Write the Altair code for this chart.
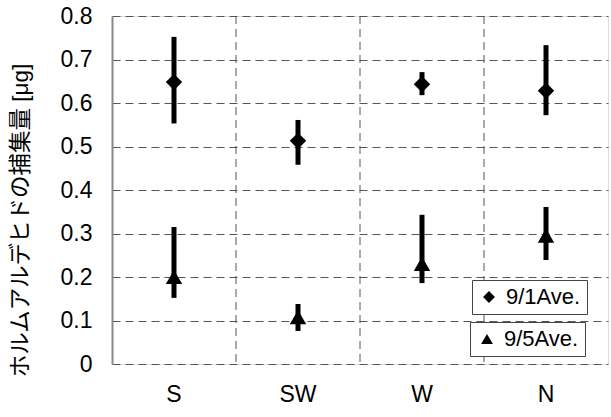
import altair as alt
import pandas as pd

categories = ["S", "SW", "W", "N"]
grid_cats = ["SW", "W", "N"]

d1_label = "9/1Ave."
d1_mean = [0.648, 0.513, 0.643, 0.628]
d1_low = [0.553, 0.458, 0.618, 0.572]
d1_high = [0.752, 0.561, 0.671, 0.733]

d5_label = "9/5Ave."
d5_mean = [0.200, 0.108, 0.230, 0.295]
d5_low = [0.152, 0.076, 0.186, 0.239]
d5_high = [0.315, 0.138, 0.343, 0.361]

y_title = "ホルムアルデヒドの捕集量 [μg]"
y_ticks = [0, 0.1, 0.2, 0.3, 0.4, 0.5, 0.6, 0.7, 0.8]

FONT = "Liberation Sans, Arial, Noto Sans CJK JP"

df1 = pd.DataFrame({"cat": categories, "mean": d1_mean, "low": d1_low,
                    "high": d1_high, "series": d1_label})
df5 = pd.DataFrame({"cat": categories, "mean": d5_mean, "low": d5_low,
                    "high": d5_high, "series": d5_label})
dgrid = pd.DataFrame({"cat": grid_cats})

xscale = alt.Scale(domain=categories, paddingInner=0, paddingOuter=0)
yscale = alt.Scale(domain=[0, 0.8], nice=False)

x_axis = alt.Axis(title=None, labelFontSize=23, labelFont=FONT, labelColor="#000",
                  ticks=False, domain=False, grid=False, labelPadding=19,
                  labelAngle=0)
y_axis = alt.Axis(title=y_title, values=y_ticks, format=".1~f",
                  labelFontSize=23, labelFont=FONT, labelColor="#000",
                  ticks=False, labelPadding=20,
                  domainColor="#888", domainWidth=2,
                  gridColor="#555", gridDash=[8, 5], gridWidth=1,
                  titleFont=FONT, titleFontSize=22.5, titleFontWeight="normal",
                  titleColor="#000", titleX=-80, titleY=204)

vgrid = alt.Chart(dgrid).mark_rule(color="#555", strokeDash=[8, 5], strokeWidth=1).encode(
    x=alt.X("cat:N", scale=xscale, bandPosition=0, axis=x_axis),
)

def bars(df):
    return alt.Chart(df).mark_rule(color="#000", strokeWidth=5).encode(
        x=alt.X("cat:N", scale=xscale, axis=x_axis),
        y=alt.Y("low:Q", scale=yscale, axis=y_axis),
        y2="high:Q",
    )

def points(df, shape, lx, ly):
    return alt.Chart(df).mark_point(filled=True, color="#000", opacity=1, size=270).encode(
        x=alt.X("cat:N", scale=xscale, axis=x_axis),
        y=alt.Y("mean:Q", scale=yscale, axis=y_axis),
        shape=alt.Shape("series:N", scale=alt.Scale(range=[shape]),
                        legend=alt.Legend(title=None, orient="none", legendX=lx, legendY=ly,
                                          labelFont=FONT, labelFontSize=22, labelColor="#000",
                                          symbolSize=140, symbolFillColor="#000",
                                          symbolStrokeColor="#000", symbolType=shape,
                                          strokeColor="#444", fillColor="#fff",
                                          padding=6, labelOffset=6)),
    )

chart = alt.layer(
    vgrid,
    bars(df1), bars(df5),
    points(df1, "diamond", 360, 264),
    points(df5, "triangle-up", 358, 306),
).resolve_scale(shape="independent").properties(
    width=496, height=348,
    autosize=alt.AutoSizeParams(type="none"),
    padding={"left": 112, "top": 16, "right": 3, "bottom": 53},
).configure_view(
    stroke="#666", strokeDash=[8, 5], strokeWidth=1
).configure(background="white")

chart.save("out.html", embed_options={"renderer": "svg", "actions": False})
